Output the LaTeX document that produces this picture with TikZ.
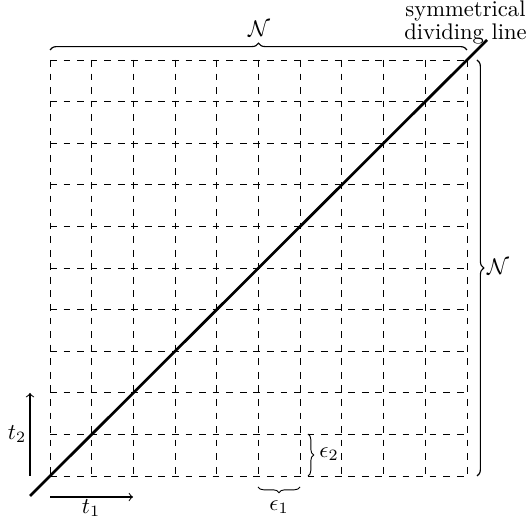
\documentclass[tikz,border=0pt]{standalone}
\usetikzlibrary{decorations.pathreplacing}
\begin{document}
\begin{tikzpicture}[x=0.4425pt,y=-0.4425pt,
  gridline/.style={dashed, line width=0.4pt},
  bigbrace/.style={decorate, decoration={brace, amplitude=3pt}, line width=0.5pt},
  smallbrace/.style={decorate, decoration={brace, amplitude=2.5pt}, line width=0.4pt},
  lbl/.style={inner sep=0pt},
  axisarrow/.style={->, line width=0.45pt},
  divline/.style={line width=1.2pt}]
\useasboundingbox (0,0) rectangle (528,522);
% grid
\foreach \i in {0,...,10} {
  \draw[gridline] ({50+41.7*\i},60) -- ({50+41.7*\i},476);
  \draw[gridline] (50,{60+41.6*\i}) -- (467,{60+41.6*\i});
}
% coordinates
\coordinate (tbL) at (50,50);
\coordinate (tbR) at (467,50);
\coordinate (rbT) at (477,60);
\coordinate (rbB) at (477,476);
\coordinate (e1R) at (300,487);
\coordinate (e1L) at (258,487);
\coordinate (e2T) at (308,434);
\coordinate (e2B) at (308,476);
\coordinate (dA) at (30,496);
\coordinate (dB) at (487,40);
\coordinate (t2s) at (30,476);
\coordinate (t2e) at (30,393);
\coordinate (t1s) at (50,497);
\coordinate (t1e) at (133,497);
% braces
\draw[bigbrace] (tbL) -- (tbR);
\draw[bigbrace] (rbT) -- (rbB);
\draw[smallbrace] (e1R) -- (e1L);
\draw[smallbrace] (e2T) -- (e2B);
% diagonal
\draw[divline] (dA) -- (dB);
% axes
\draw[axisarrow] (t2s) -- (t2e);
\draw[axisarrow] (t1s) -- (t1e);
% labels
\node[lbl] (Ntop) at (259,29) {$\mathcal{N}$};
\node[lbl] (Nright) at (498,267) {$\mathcal{N}$};
\node[lbl] (eps1) at (279,507) {$\epsilon_1$};
\node[lbl] (eps2) at (329,454) {$\epsilon_2$};
\node[lbl] (t1) at (91,508) {$t_1$};
\node[lbl] (t2) at (17,434) {$t_2$};
\node[lbl, anchor=north, align=center, font=\fontsize{10}{8.2}\selectfont] (sdl) at (465.5,0.8) {symmetrical\\dividing line};
\end{tikzpicture}
\end{document}
